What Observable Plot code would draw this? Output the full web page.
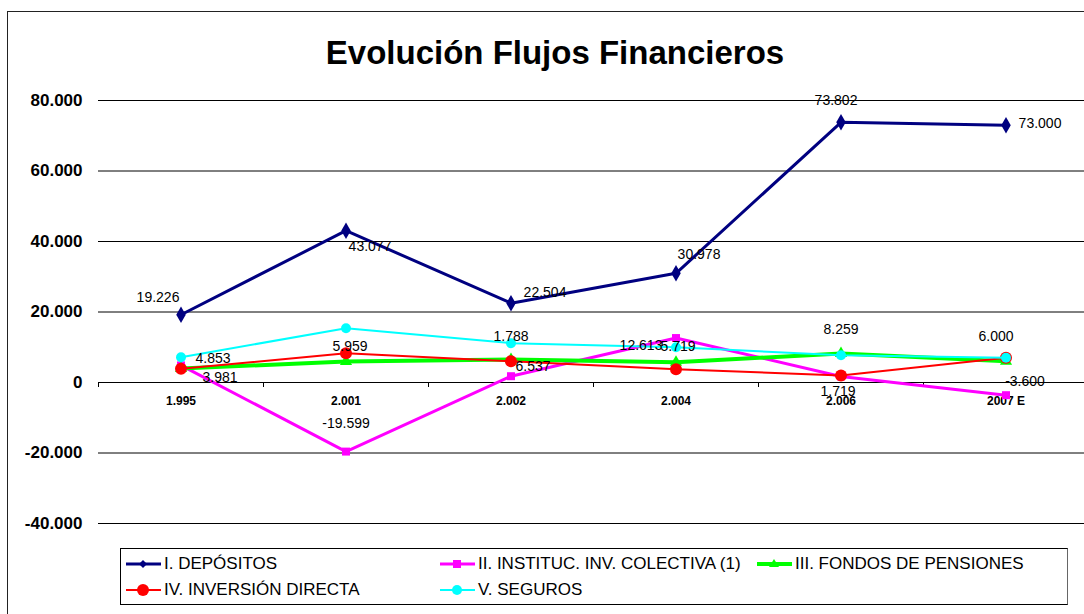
<!DOCTYPE html>
<html><head><meta charset="utf-8">
<script src="https://cdn.jsdelivr.net/npm/d3@7"></script>
<script src="https://cdn.jsdelivr.net/npm/@observablehq/plot@0.6"></script>
<style>
body{margin:0;background:#fff;font-family:Arial,"Liberation Sans",sans-serif;}
#wrap{position:relative;width:1084px;height:614px;overflow:hidden;background:#fff;}
#frame{position:absolute;left:7px;top:11px;width:1200px;height:700px;border-left:1.5px solid #222;border-top:1.5px solid #222;}
#title{position:absolute;left:0;width:1110px;top:36px;text-align:center;font-weight:bold;font-size:33px;line-height:33px;color:#000;}
#chart{position:absolute;left:0;top:0;}
#legend{position:absolute;left:120px;top:548px;width:946px;height:55px;border:1px solid #000;border-right-color:#666;border-bottom-color:#000;background:#fff;}
.li{position:absolute;display:flex;align-items:center;height:20px;font-size:17px;color:#000;white-space:nowrap;}
.li svg{margin-right:3px;}
</style></head>
<body><div id="wrap"><div id="frame"></div><div id="chart"></div><div id="title">Evolución Flujos Financieros</div><div id="legend"></div></div>
<script>
// ---- data ----
const categories = ["1.995", "2.001", "2.002", "2.004", "2.006", "2007 E"];
const depositos        = [19226, 43077, 22504, 30978, 73802, 73000];
const institucInv      = [4853, -19599, 1788, 12613, 1719, -3600];
const fondosPensiones  = [3981, 5959, 6537, 5719, 8259, 6000];
const inversionDirecta = [3890, 8300, 6040, 3780, 1990, 7000];
const seguros          = [7180, 15400, 11150, 10000, 7750, 7000];
const yTicks = [-40000, -20000, 0, 20000, 40000, 60000, 80000];
const seriesNames = ["I. DEPÓSITOS", "II. INSTITUC. INV. COLECTIVA (1)", "III. FONDOS DE PENSIONES", "IV. INVERSIÓN DIRECTA", "V. SEGUROS"];

// ---- styles / label placement ----
const seriesStyle = [
  {values: depositos, color: "#000080", symbol: "diamond", sw: 3, r: 5},
  {values: institucInv, color: "#FF00FF", symbol: "square", sw: 3, r: 4.5},
  {values: fondosPensiones, color: "#00FF00", symbol: "triangle", sw: 4, r: 4.5},
  {values: inversionDirecta, color: "#FF0000", symbol: "circle", sw: 2, r: 6},
  {values: seguros, color: "#00FFFF", symbol: "circle", sw: 2, r: 5}
];
// per-label pixel offsets [dx, dy] for labelled series
const labelOffsets = {
  0: [[-23,-17],[24,16],[34,-11],[23,-19],[-5,-22],[34,-2]],
  1: [[32,-7],[0,-28],[0,-40],[-35,7],[-3,15],[19,-14]],
  2: [[39,9],[4,-15],[22,7],[2,-16],[0,-24],[-10,-25]]
};

const loc = d3.formatLocale({decimal: ",", thousands: ".", grouping: [3], currency: ["", ""], minus: "-"});
const fmt = loc.format(",d");
const idx = categories.map((c, i) => i);
const boundaries = categories.map((c, i) => i - 0.5);

const marks = [];
marks.push(Plot.ruleY(yTicks, {y: d => d, x1: -0.5, x2: 5.5, stroke: "#000", strokeWidth: 1}));
marks.push(Plot.ruleX(boundaries, {x: d => d, y1: 0, y2: 0, insetBottom: -5, stroke: "#000", strokeWidth: 1}));
marks.push(Plot.axisY({ticks: yTicks, tickFormat: fmt, tickSize: 0, tickPadding: 16, fontSize: 17, fontWeight: "bold", fill: "#000", label: null}));
marks.push(Plot.text(idx, {x: d => d, y: 0, text: d => categories[d], dy: 19, fontSize: 12, fontWeight: "bold", fill: "#000"}));

seriesStyle.forEach((s, k) => {
  const rows = s.values.map((v, i) => ({i, v}));
  marks.push(Plot.line(rows, {x: "i", y: "v", stroke: s.color, strokeWidth: s.sw}));
  marks.push(Plot.dot(rows, {x: "i", y: "v", symbol: () => s.symbol, fill: s.color, stroke: "none", r: s.r}));
});
[0, 1, 2].forEach(k => {
  seriesStyle[k].values.forEach((v, i) => {
    const [dx, dy] = labelOffsets[k][i];
    marks.push(Plot.text([{i, v}], {x: "i", y: "v", text: d => fmt(d.v), dx, dy, fontSize: 14, fill: "#000"}));
  });
});

const chart = Plot.plot({
  width: 1084, height: 614,
  marginLeft: 98, marginRight: 0, marginTop: 0, marginBottom: 0,
  x: {type: "linear", domain: [-0.5, 5.5], range: [98, 1088], axis: null},
  y: {domain: [-40000, 80000], range: [523, 100], axis: null},
  symbol: {type: "identity"},
  style: {background: "transparent", fontFamily: "Arial, 'Liberation Sans', sans-serif", overflow: "visible"},
  marks
});
document.getElementById("chart").appendChild(chart);

// ---- legend ----
const legendPos = [[5, 5], [319, 5], [636, 5], [5, 31], [319, 31]];
function markerSvg(s) {
  let m = "";
  const c = s.color;
  if (s.symbol === "diamond") m = `<path d="M17,6 L21,10 L17,14 L13,10 Z" fill="${c}"/>`;
  else if (s.symbol === "square") m = `<rect x="13" y="6" width="8" height="8" fill="${c}"/>`;
  else if (s.symbol === "triangle") m = `<path d="M17,5 L22,13 L12,13 Z" fill="${c}"/>`;
  else m = `<circle cx="17" cy="10" r="${s.r}" fill="${c}"/>`;
  return `<svg width="35" height="20"><line x1="0" y1="10" x2="35" y2="10" stroke="${c}" stroke-width="${Math.max(2, s.sw)}"/>${m}</svg>`;
}
const leg = document.getElementById("legend");
seriesNames.forEach((n, k) => {
  const [mx, y] = legendPos[k];
  const d = document.createElement("div");
  d.className = "li";
  d.style.left = mx + "px";
  d.style.top = y + "px";
  d.innerHTML = markerSvg(seriesStyle[k]) + `<span>${n}</span>`;
  leg.appendChild(d);
});
</script></body></html>
